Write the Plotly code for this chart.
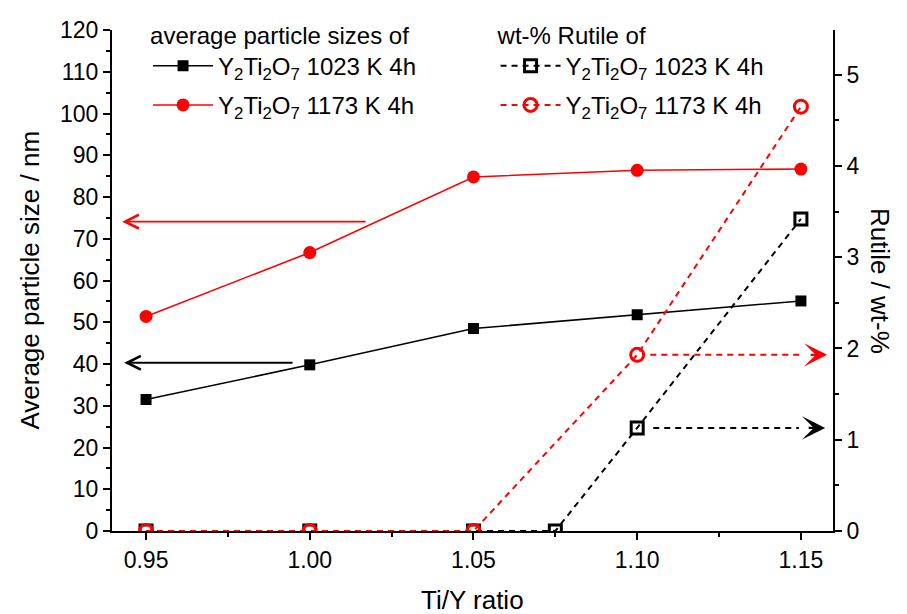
import plotly.graph_objects as go

# ---------------- data ----------------
ratio = [0.95, 1.00, 1.05, 1.10, 1.15]
size_1023 = [31.5, 39.8, 48.5, 51.8, 55.1]
size_1173 = [51.4, 66.7, 84.8, 86.4, 86.7]

ratio_rutile_1023 = [0.95, 1.00, 1.05, 1.075, 1.10, 1.15]
rutile_1023 = [0, 0, 0, 0, 1.13, 3.42]
ratio_rutile_1173 = [0.95, 1.00, 1.05, 1.10, 1.15]
rutile_1173 = [0, 0, 0, 1.93, 4.65]

x_ticks = [0.95, 1.00, 1.05, 1.10, 1.15]
x_tick_labels = ["0.95", "1.00", "1.05", "1.10", "1.15"]

name_1023 = "Y<sub>2</sub>Ti<sub>2</sub>O<sub>7</sub> 1023 K 4h"
name_1173 = "Y<sub>2</sub>Ti<sub>2</sub>O<sub>7</sub> 1173 K 4h"

# arrows: (tail_x, tip_x, y, axis, colour, dashed)
arrows = [
    (1.0175, 0.9427, 74.1, "y", "#ff0000", False),
    (0.9952, 0.9433, 40.3, "y", "#000000", False),
    (1.1040, 1.1580, 1.93, "y2", "#ff0000", True),
    (1.1049, 1.1574, 1.13, "y2", "#000000", True),
]

FONT = "Liberation Sans, Arial, sans-serif"
RED = "#ff0000"
BLACK = "#000000"

fig = go.Figure()

fig.add_trace(go.Scatter(
    x=ratio, y=size_1023, name=name_1023, mode="lines+markers",
    line=dict(color=BLACK, width=1.6),
    marker=dict(symbol="square", size=11, color=BLACK),
    legend="legend", legendgroup="a1", yaxis="y"))
fig.add_trace(go.Scatter(
    x=ratio, y=size_1173, name=name_1173, mode="lines+markers",
    line=dict(color=RED, width=1.6),
    marker=dict(symbol="circle", size=13, color=RED),
    legend="legend", legendgroup="a2", yaxis="y"))
fig.add_trace(go.Scatter(
    x=ratio_rutile_1023, y=rutile_1023, name=name_1023, mode="lines+markers",
    line=dict(color=BLACK, width=2, dash="6px,5px"),
    marker=dict(symbol="square-open", size=12, color=BLACK, line=dict(width=3)),
    legend="legend2", legendgroup="b1", yaxis="y2"))
fig.add_trace(go.Scatter(
    x=ratio_rutile_1173, y=rutile_1173, name=name_1173, mode="lines+markers",
    line=dict(color=RED, width=2, dash="6px,5px"),
    marker=dict(symbol="circle-open", size=13, color=RED, line=dict(width=3)),
    legend="legend2", legendgroup="b2", yaxis="y2"))

shapes = []
annotations = []
for tail_x, tip_x, yv, ax_ref, col, dashed in arrows:
    if dashed:
        shapes.append(dict(type="line", xref="x", yref=ax_ref, x0=tail_x, x1=tip_x - 0.008,
                           y0=yv, y1=yv, line=dict(color=col, width=2, dash="6px,5px")))
        annotations.append(dict(x=tip_x, y=yv, xref="x", yref=ax_ref, ax=-18, ay=0,
                                axref="pixel", ayref="pixel", showarrow=True, text="",
                                arrowhead=3, arrowsize=1.6, arrowwidth=2.4, arrowcolor=col))
    else:
        annotations.append(dict(x=tip_x, y=yv, xref="x", yref=ax_ref, ax=tail_x, ay=yv,
                                axref="x", ayref=ax_ref, showarrow=True, text="",
                                arrowhead=5, arrowsize=1.5, arrowwidth=1.8, arrowcolor=col))

annotations += [
    dict(text="Average particle size / nm", xref="paper", yref="paper", x=-0.115, y=0.5,
         textangle=-90, showarrow=False, font=dict(size=26, family=FONT, color=BLACK),
         xanchor="center", yanchor="middle"),
    dict(text="Rutile / wt-%", xref="paper", yref="paper", x=1.066, y=0.5,
         textangle=90, showarrow=False, font=dict(size=26, family=FONT, color=BLACK),
         xanchor="center", yanchor="middle"),
    dict(text="Ti/Y ratio", xref="paper", yref="paper", x=0.5, y=-0.137,
         showarrow=False, font=dict(size=26, family=FONT, color=BLACK),
         xanchor="center", yanchor="middle"),
]

axis_common = dict(showline=True, linecolor=BLACK, linewidth=2, ticks="outside",
                   ticklen=7, tickwidth=2, tickcolor=BLACK, showgrid=False, zeroline=False,
                   tickfont=dict(size=23, family=FONT, color=BLACK))

fig.update_layout(
    width=907, height=614,
    margin=dict(l=112, r=74, t=28, b=83),
    paper_bgcolor="white", plot_bgcolor="white",
    font=dict(family=FONT, color=BLACK),
    showlegend=True,
    xaxis=dict(range=[0.9396, 1.1598], tickvals=x_ticks, ticktext=x_tick_labels,
               minor=dict(dtick=0.025, tick0=0.95, ticks="outside", ticklen=4, tickwidth=2,
                          tickcolor=BLACK),
               **axis_common),
    yaxis=dict(range=[0, 120], dtick=10, tick0=0,
               minor=dict(dtick=5, ticks="outside", ticklen=4, tickwidth=2, tickcolor=BLACK),
               **axis_common),
    yaxis2=dict(range=[0, 5.49], dtick=1, tick0=0, overlaying="y", side="right",
                minor=dict(dtick=0.5, ticks="outside", ticklen=4, tickwidth=2, tickcolor=BLACK),
                **axis_common),
    legend=dict(x=0.05, y=1.035, xanchor="left", yanchor="top", bgcolor="rgba(0,0,0,0)",
                title=dict(text="average particle sizes of", font=dict(size=24, family=FONT)),
                font=dict(size=24, family=FONT, color=BLACK), itemwidth=60, tracegroupgap=5),
    legend2=dict(x=0.532, y=1.035, xanchor="left", yanchor="top", bgcolor="rgba(0,0,0,0)",
                 title=dict(text="wt-% Rutile of", font=dict(size=24, family=FONT)),
                 font=dict(size=24, family=FONT, color=BLACK), itemwidth=60, tracegroupgap=5),
    shapes=shapes,
    annotations=annotations,
)

fig.write_html("out.html")
